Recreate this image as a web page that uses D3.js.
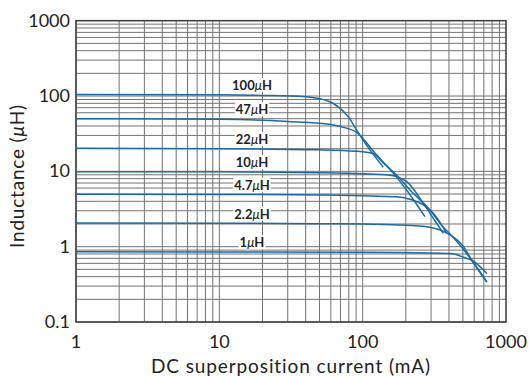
<!DOCTYPE html>
<html>
<head>
<meta charset="utf-8">
<script src="https://cdn.jsdelivr.net/npm/d3@7"></script>
<style>
  body { margin: 0; background: #fff; }
  svg text { font-family: "Lato", "DejaVu Sans", sans-serif; fill: #222; }
</style>
</head>
<body>
<div id="chart"></div>
<script>
// [current mA, inductance uH]
const uH100 = [[1,105],[10,104],[20,102],[40,98],[59,84],[70,68],[80,52],[91,35],[107,22],[139,11.4]];
const uH47  = [[1,50],[10,49],[30,46],[60,42],[77,37.5],[91,33],[120,18],[164,9.4],[203,5.6],[272,2.5]];
const uH22  = [[1,20.2],[10,20],[50,19.3],[90,18.5],[118,17.3],[140,12.8],[177,8.5],[214,5.65],[295,3.06],[347,2.04],[450,1.2],[577,0.66],[735,0.34]];
const uH10  = [[1,9.9],[10,9.85],[50,9.6],[100,9.3],[155,8.9],[203,7.3],[265,3.76],[295,2.77],[366,1.5]];
const uH4_7 = [[1,4.95],[10,4.93],[50,4.85],[100,4.75],[173,4.6],[220,4.2],[265,3.6],[311,2.77],[386,1.5]];
const uH2_2 = [[1,2.06],[10,2.05],[50,2.02],[100,2.0],[182,1.94],[280,1.84],[407,1.43],[505,1.0],[577,0.66],[735,0.34]];
const uH1   = [[1,0.855],[10,0.85],[100,0.845],[182,0.84],[407,0.81],[533,0.70],[577,0.66],[735,0.44]];

const series = [uH100, uH47, uH22, uH10, uH4_7, uH2_2, uH1];
const seriesNames = ["100", "47", "22", "10", "4.7", "2.2", "1"];

const xTickLabels = ["1", "10", "100", "1000"];
const yTickLabels = ["0.1", "1", "10", "100", "1000"];

// set the dimensions and margins of the graph
let margin = {top: 20.7, right: 23, bottom: 54, left: 76},
    width = 529 - margin.left - margin.right,
    height = 376 - margin.top - margin.bottom;

let svg = d3.select("#chart")
    .append("svg")
    .attr("width", 529)
    .attr("height", 376);

let g = svg.append("g")
    .attr("transform", "translate(" + margin.left + "," + margin.top + ")");

let x = d3.scaleLog().domain([1, 1000]).range([0, width]);
let y = d3.scaleLog().domain([0.1, 1000]).range([height, 0]);

// minor + major grid values for every decade
let xGrid = [], yGrid = [];
[1, 10, 100].forEach(function(d) { for (let k = 1; k < 10; k++) xGrid.push(d * k); });
[0.1, 1, 10, 100].forEach(function(d) { for (let k = 1; k < 10; k++) yGrid.push(+(d * k).toPrecision(3)); });

g.selectAll(".vgrid")
    .data(xGrid)
    .enter().append("line")
    .attr("class", "vgrid")
    .attr("x1", function(d) { return x(d); })
    .attr("x2", function(d) { return x(d); })
    .attr("y1", 0)
    .attr("y2", height)
    .attr("stroke", "#737373")
    .attr("stroke-width", 1);

g.selectAll(".hgrid")
    .data(yGrid)
    .enter().append("line")
    .attr("class", "hgrid")
    .attr("y1", function(d) { return y(d); })
    .attr("y2", function(d) { return y(d); })
    .attr("x1", 0)
    .attr("x2", width)
    .attr("stroke", "#737373")
    .attr("stroke-width", 1);

// frame
g.append("rect")
    .attr("width", width)
    .attr("height", height)
    .attr("fill", "none")
    .attr("stroke", "#444")
    .attr("stroke-width", 1.6);

// tick labels
g.selectAll(".xlab")
    .data(xTickLabels)
    .enter().append("text")
    .attr("x", function(d) { return x(+d); })
    .attr("y", height + 26)
    .attr("text-anchor", "middle")
    .style("font-size", "18px")
    .text(function(d) { return d; });

g.selectAll(".ylab")
    .data(yTickLabels)
    .enter().append("text")
    .attr("x", -6)
    .attr("y", function(d) { return y(+d) + 6; })
    .attr("text-anchor", "end")
    .style("font-size", "18px")
    .text(function(d) { return d; });

// axis titles
svg.append("text")
    .attr("x", 291)
    .attr("y", 373)
    .attr("text-anchor", "middle")
    .style("font-size", "19px")
    .style("letter-spacing", "0.9px")
    .text("DC superposition current (mA)");

svg.append("text")
    .attr("transform", "translate(24,176) rotate(-90)")
    .attr("text-anchor", "middle")
    .style("font-size", "19px")
    .style("letter-spacing", "0.8px")
    .text("Inductance (")
    .append("tspan").style("font-style", "italic").text("\u03bc")
    .select(function() { return this.parentNode; })
    .append("tspan").text("H)");

// curves
const line = d3.line()
    .x(function(d) { return x(d[0]); })
    .y(function(d) { return y(d[1]); })
    .curve(d3.curveMonotoneX);

g.selectAll(".curve")
    .data(series)
    .enter().append("path")
    .attr("class", "curve")
    .attr("fill", "none")
    .attr("stroke", "#1b6aa5")
    .attr("stroke-width", 1.5)
    .attr("d", line);

// curve labels with white boxes
let labels = g.selectAll(".clabel")
    .data(series)
    .enter().append("g")
    .attr("class", "clabel")
    .attr("transform", function(d) { return "translate(" + x(16.9) + "," + (y(d[0][1]) - 9) + ")"; });

labels.append("rect")
    .attr("fill", "#fff");

let lt = labels.append("text")
    .attr("text-anchor", "middle")
    .attr("dy", "0.35em")
    .style("font-size", "13px")
    .style("font-weight", "bold");
lt.append("tspan").text(function(d, i) { return seriesNames[i]; });
lt.append("tspan").style("font-style", "italic").style("font-weight", "normal").text("\u03bc");
lt.append("tspan").text("H");

labels.each(function() {
    let bb = d3.select(this).select("text").node().getBBox();
    d3.select(this).select("rect")
        .attr("x", bb.x - 1)
        .attr("y", bb.y + 1)
        .attr("width", bb.width + 2)
        .attr("height", bb.height - 2);
});
</script>
</body>
</html>
